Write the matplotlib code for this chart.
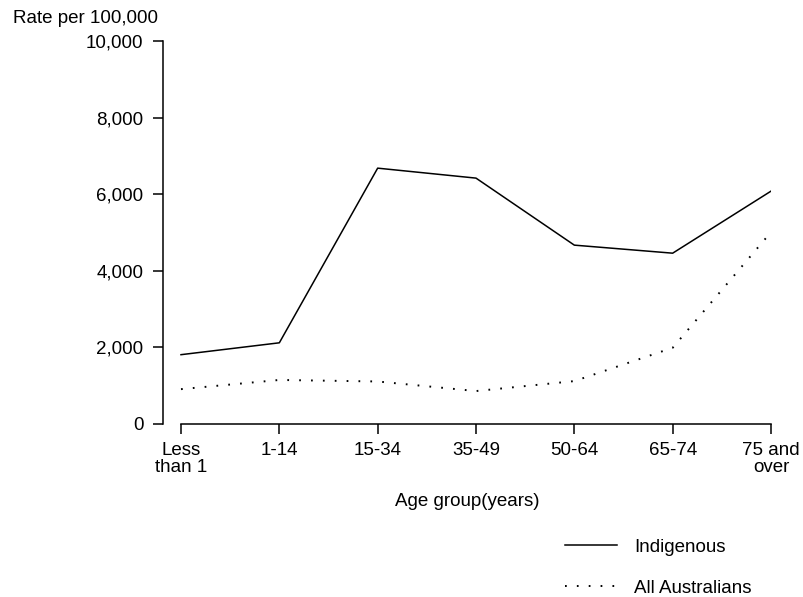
import matplotlib
matplotlib.use('Agg')
import matplotlib.pyplot as plt
from matplotlib.ticker import FuncFormatter

# Data
age_groups = ['Less\nthan 1', '1-14', '15-34', '35-49', '50-64', '65-74', '75 and\nover']
indigenous = [1810, 2120, 6680, 6420, 4670, 4460, 6080]
all_australians = [910, 1150, 1110, 860, 1120, 1990, 5010]

plt.rcParams['font.family'] = ['Liberation Sans', 'DejaVu Sans']
plt.rcParams['font.size'] = 13.5

W, H = 804, 597
fig = plt.figure(figsize=(W / 100, H / 100), dpi=100)

# axes geometry in pixels
left, right, top, bottom = 163, 771, 41, 424
ax = fig.add_axes([left / W, 1 - bottom / H, (right - left) / W, (bottom - top) / H])

x = list(range(len(age_groups)))
ax.plot(x, indigenous, color='black', linewidth=1.1, label='Indigenous')
ax.plot(x, all_australians, color='black', linewidth=1.4,
        linestyle=(0, (0.9, 5.2)), label='All Australians')

step = (right - 181) / 6
ax.set_xlim(-(181 - left) / step, 6)
ax.set_ylim(0, 10000)

for s in ['top', 'right']:
    ax.spines[s].set_visible(False)
ax.spines['bottom'].set_bounds(0, 6)
for s in ['left', 'bottom']:
    ax.spines[s].set_linewidth(1.1)

ax.set_xticks(x)
ax.set_xticklabels(age_groups, linespacing=1.0)
ax.set_yticks(range(0, 10001, 2000))
ax.yaxis.set_major_formatter(FuncFormatter(lambda v, p: f'{int(v):,}'))
ax.tick_params(axis='x', length=7, width=1.1, pad=6)
ax.tick_params(axis='y', length=7, width=1.1, pad=7)

ax.set_xlabel('Age group(years)', labelpad=12)
fig.text(13 / W, 1 - 10 / H, 'Rate per 100,000', ha='left', va='top')

ax.legend(loc='upper left', bbox_to_anchor=(548 / W, 1 - 522 / H),
          bbox_transform=fig.transFigure, frameon=False,
          handlelength=2.8, handletextpad=0.9, labelspacing=1.25)

fig.savefig('out.png', dpi=100)
